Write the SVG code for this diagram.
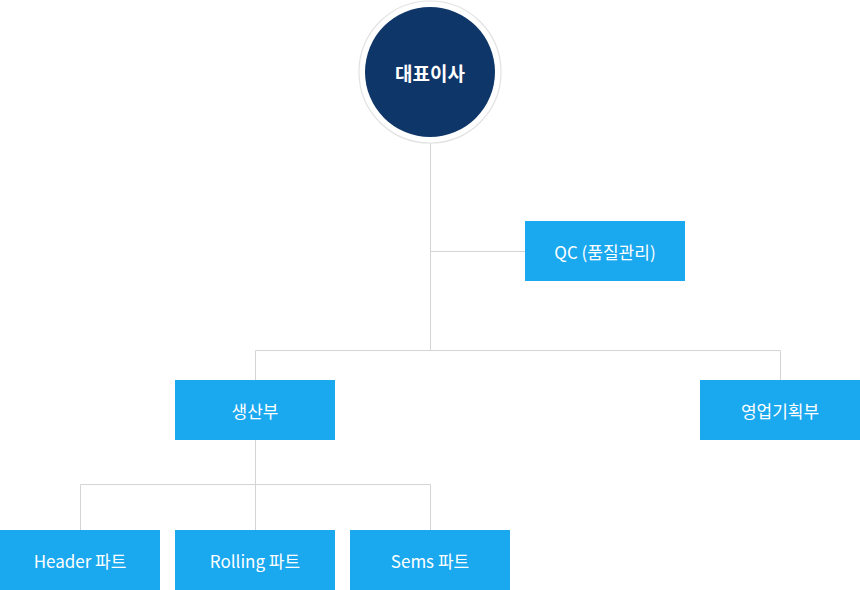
<svg xmlns="http://www.w3.org/2000/svg" width="860" height="590" viewBox="0 0 860 590">
<style>
.box{fill:#1aa8ef}
.lbl{fill:#ffffff;font-family:"Noto Sans CJK KR","Noto Sans",sans-serif;font-size:17px;text-anchor:middle;dominant-baseline:central}
.ln{stroke:#d4d4d4;stroke-width:1;fill:none}
</style>
<rect width="860" height="590" fill="#ffffff"/>
<g id="connectors">
<path class="ln" d="M430.5 143V350.5M430.5 251.5H525M255.5 350.5H780.5M255.5 350.5V380M780.5 350.5V380M255.5 440V530M80.5 484.5H430.5M80.5 484.5V530M430.5 484.5V530"/>
</g>
<g id="ceo">
<circle cx="430" cy="72" r="71" fill="#ffffff" stroke="#e2e2e2" stroke-width="1.2"/>
<circle cx="430" cy="72" r="65" fill="#0f3669"/>
<text x="430" y="72" class="lbl" style="font-size:19px;font-weight:bold">대표이사</text>
</g>
<g id="qc">
<rect class="box" x="525" y="221" width="160" height="60"/>
<text x="605" y="251" class="lbl">QC (품질관리)</text>
</g>
<g id="production">
<rect class="box" x="175" y="380" width="160" height="60"/>
<text x="255" y="410" class="lbl">생산부</text>
</g>
<g id="sales">
<rect class="box" x="700" y="380" width="160" height="60"/>
<text x="780" y="410" class="lbl">영업기획부</text>
</g>
<g id="header">
<rect class="box" x="0" y="530" width="160" height="60"/>
<text x="80" y="560" class="lbl">Header 파트</text>
</g>
<g id="rolling">
<rect class="box" x="175" y="530" width="160" height="60"/>
<text x="255" y="560" class="lbl">Rolling 파트</text>
</g>
<g id="sems">
<rect class="box" x="350" y="530" width="160" height="60"/>
<text x="430" y="560" class="lbl">Sems 파트</text>
</g>
</svg>
